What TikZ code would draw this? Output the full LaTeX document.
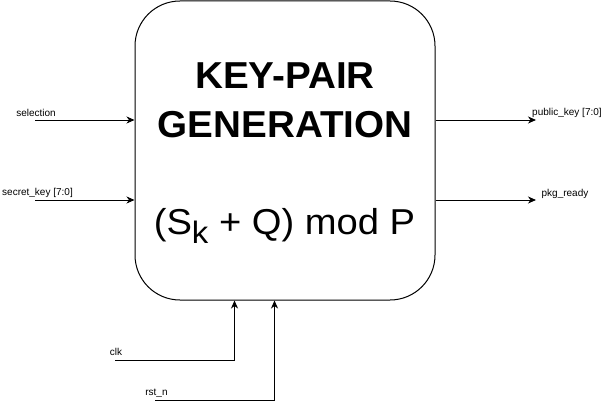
\documentclass[tikz,border=0pt]{standalone}
\usepackage{fontspec}
\setmainfont{Liberation Sans}
\usetikzlibrary{arrows.meta}
\begin{document}
\begin{tikzpicture}[x=1pt,y=-1pt,
  arr/.style={line width=1pt,-{Stealth[length=8pt,width=7pt,inset=2.5pt]}},
  lbl/.style={font=\fontsize{10}{10}\selectfont,inner sep=0,anchor=base},
  ttl/.style={font=\fontsize{37.5}{37.5}\selectfont\bfseries,inner sep=0,anchor=base},
  frm/.style={font=\fontsize{36}{36}\selectfont,inner sep=0,anchor=base}]
\useasboundingbox (0,0) rectangle (601,409);
\node[draw,line width=1pt,rounded corners=45pt,minimum width=300pt,minimum height=299pt,inner sep=0] (blk) at (285,150.5) {};
\node[ttl] (t1) at (285,88.5) {\scalebox{1.03}[1]{KEY-PAIR}};
\node[ttl] (t2) at (285,137.5) {\scalebox{1.03}[1]{GENERATION}};
\node[frm] (f) at (284.5,234) {\scalebox{1.06}[1]{(S\raisebox{-9pt}{\fontsize{31}{31}\selectfont k} + Q) mod P}};
% inputs
\coordinate (sel) at (35,120);
\coordinate (sec) at (35,200);
\draw[arr] (sel) -- (sel -| blk.west);
\draw[arr] (sec) -- (sec -| blk.west);
\node[lbl] (lsel) at (36,116.5) {selection};
\node[lbl] (lsec) at (37.5,195.5) {secret\_key [7:0]};
% outputs
\coordinate (pub) at (536,120);
\coordinate (pkg) at (536,200);
\draw[arr] (pub -| blk.east) -- (pub);
\draw[arr] (pkg -| blk.east) -- (pkg);
\node[lbl,anchor=base west] (lpub) at (532,115.5) {public\_key [7:0]};
\node[lbl] (lpkg) at (565,196) {pkg\_ready};
% bottom
\coordinate (clk) at (115,360);
\coordinate (rst) at (155,400);
\path (blk.south west) ++(100,0) coordinate (clkend);
\path (blk.south west) ++(140,0) coordinate (rstend);
\draw[arr] (clk) -| (clkend);
\draw[arr] (rst) -| (rstend);
\node[lbl] (lclk) at (116,355) {clk};
\node[lbl] (lrst) at (156.5,395.5) {rst\_n};
\end{tikzpicture}
\end{document}
